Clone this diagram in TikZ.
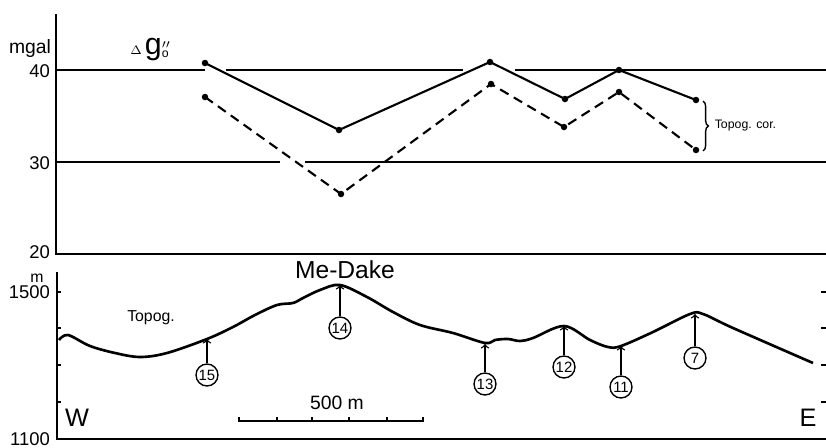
\documentclass[tikz,border=0pt]{standalone}
\usepackage{fontspec}
\setmainfont{Liberation Sans}
\usepackage{amsmath}
\usetikzlibrary{positioning}
\usetikzlibrary{arrows}
\usetikzlibrary{decorations.pathreplacing}
\tikzset{
    axislabel/.style={left, inner sep=1pt, font=\fontsize{10.5}{12}\selectfont},
    stationlabel/.style={circle, draw, thick, inner sep=0pt, minimum size=12.5pt, font=\fontsize{8.5}{9}\selectfont},
    gravity/.style={line width=1.2pt, mark=*, mark size=1.2pt, mark options={solid}},
    frame/.style={line width=1pt}
}
\newcommand{\station}[5]{ % Takes node name, x coord, y coord on profile, y coord of circle, station number
    \coordinate (#1top) at (#2, #3);
    \node [stationlabel] (#1) at (#2, #4) {#5};
    \draw[thick, ->] (#1) -- (#1top);
}

\begin{document}
\begin{tikzpicture}[x=0.02cm, y=-0.02cm]
                \useasboundingbox (0,0) rectangle (826,447);

                % Axes
                \draw[frame] (56,14) -- (56,254) -- (826,254);
                \draw[frame] (57,272) -- (57,439) -- (826,439);

                % Grid lines of the gravity panel
                \draw[frame] (56,70) -- (205,70) (226,70) -- (463,70) (515,70) -- (826,70);
                \draw[frame] (56,162) -- (280,162) (305,162) -- (826,162);

                % Height ticks
                \foreach \y in {292,328,365,402} {
                    \draw[frame] (57,\y) -- (61,\y);
                    \draw[frame] (821,\y) -- (826,\y);
                }

                % Axis labels
                \node (mgal) at (30,48) {\fontsize{11}{12}\selectfont mgal};
                \node[axislabel] (g40) at (52,71) {40};
                \node[axislabel] (g30) at (52,163) {30};
                \node[axislabel] (g20) at (52,252) {20};
                \node (munit) at (37,278) {\small m};
                \node[axislabel] (h1500) at (52,292) {1500};
                \node[axislabel] (h1100) at (52,439) {1100};
                \node (dg) at (150,50) {{\scriptsize$\Delta$}\,{\LARGE g}\rlap{$^{\prime\prime}$}$_{\mathrm{o}}$};

                % Gravity anomaly, corrected and uncorrected
                \draw[gravity] plot coordinates {(205,63) (339,130) (490,62) (565,99) (619,70) (696,100)};
                \draw[gravity, dash pattern=on 5.5pt off 3.5pt] plot coordinates {(205,97) (341,194) (491,84) (564,127) (619,92) (696,150)};
                \draw[thick, decorate, decoration={brace, amplitude=3pt}] (703,101) -- (703,151)
                    node[midway, right=3pt] (topogcor) {\fontsize{7}{8}\selectfont Topog. cor.};

                % Topography
                \draw[line width=1.5pt] plot[smooth, tension=0.55] coordinates {
                    (59,340) (68,335) (90,346) (115,353) (140,357) (167,353) (207,339) (233,327)
                    (255,315) (277,305) (293,303) (303,298) (320,290) (340,285) (367,297) (393,312)
                    (420,325) (453,333) (485,343) (495,340) (508,339) (520,341) (533,338) (564,326)
                    (590,340) (608,347) (621,346) (653,332) (690,314) (703,314) (733,328) (813,363)};
                \node (medake) at (345,270) {\fontsize{14}{16}\selectfont Me-Dake};
                \node (topog) at (151,318) {\small Topog.};
                \node (west) at (77,418) {\Large W};
                \node (east) at (808,418) {\Large E};

                % Stations
                \station{s15}{207}{339}{375}{15}
                \station{s14}{340}{285}{328}{14}
                \station{s13}{485}{344}{384}{13}
                \station{s12}{564}{326}{367}{12}
                \station{s11}{621}{346}{387}{11}
                \station{s7}{695}{314}{358}{7}

                % Scale bar
                \draw[thick] (239,417) -- (239,421) -- (423,421) -- (423,417);
                \foreach \x in {277,312,349,387} {
                    \draw[thick] (\x,421) -- (\x,417);
                }
                \node (scalebar) at (337,403) {\fontsize{11}{12}\selectfont 500 m};
            \end{tikzpicture}
\end{document}
